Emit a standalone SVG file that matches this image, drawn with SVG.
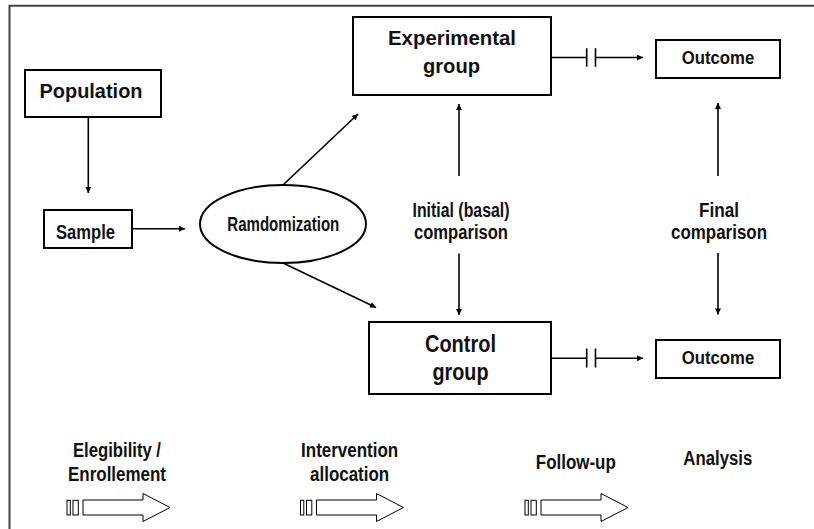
<svg xmlns="http://www.w3.org/2000/svg" width="814" height="529" viewBox="0 0 814 529">
<defs>
<style>
.box{fill:#fff;stroke:#000;stroke-width:2}
.t{font-family:"Liberation Sans",Arial,sans-serif;font-weight:bold;fill:#111;text-anchor:middle}
.c{stroke:#000;stroke-width:1.6;fill:none}
.hollow{fill:#fff;stroke:#000;stroke-width:1}
</style>
<marker id="ah" viewBox="0 0 10 10" refX="10" refY="5" markerWidth="7" markerHeight="6" markerUnits="userSpaceOnUse" orient="auto">
<path d="M0,0 L10,5 L0,10 z" fill="#000"/>
</marker>
<g id="hollowArrow">
<rect x="67" y="500.3" width="3.3" height="14.7" class="hollow"/>
<rect x="73" y="500.3" width="5.3" height="14.7" class="hollow"/>
<polygon points="83,500 143,500 143,493.5 170,507.5 143,521.5 143,515 83,515" class="hollow"/>
</g>
</defs>
<rect width="814" height="529" fill="#fff"/>
<path d="M9.5,529 V5.7 H814" fill="none" stroke="#444" stroke-width="2"/>

<g id="population">
<rect class="box" x="25" y="70" width="136" height="47"/>
<text class="t" x="91" y="98.3" font-size="21" textLength="103" lengthAdjust="spacingAndGlyphs">Population</text>
</g>
<g id="sample">
<rect class="box" x="44" y="210" width="88" height="38"/>
<text class="t" x="85.5" y="239.3" font-size="20" textLength="59" lengthAdjust="spacingAndGlyphs">Sample</text>
</g>
<g id="randomization">
<ellipse cx="283" cy="224" rx="83" ry="39" fill="#fff" stroke="#000" stroke-width="2"/>
<text class="t" x="283.3" y="231" font-size="20" textLength="112" lengthAdjust="spacingAndGlyphs">Ramdomization</text>
</g>
<g id="experimental">
<rect class="box" x="353" y="17" width="198" height="78"/>
<text class="t" x="452" y="44.9" font-size="21" textLength="128" lengthAdjust="spacingAndGlyphs">Experimental</text>
<text class="t" x="451.5" y="73" font-size="21" textLength="57" lengthAdjust="spacingAndGlyphs">group</text>
</g>
<g id="control">
<rect class="box" x="369" y="322" width="182" height="72"/>
<text class="t" x="460.5" y="351.5" font-size="23" textLength="71" lengthAdjust="spacingAndGlyphs">Control</text>
<text class="t" x="460.5" y="379.5" font-size="23" textLength="56" lengthAdjust="spacingAndGlyphs">group</text>
</g>
<g id="outcome-top">
<rect class="box" x="656" y="40" width="124" height="38"/>
<text class="t" x="718" y="64.3" font-size="18.5" textLength="72.6" lengthAdjust="spacingAndGlyphs">Outcome</text>
</g>
<g id="outcome-bottom">
<rect class="box" x="656" y="340" width="124" height="38"/>
<text class="t" x="718" y="364.3" font-size="18.5" textLength="72.6" lengthAdjust="spacingAndGlyphs">Outcome</text>
</g>
<g id="initial-comparison">
<text class="t" x="461" y="216.5" font-size="20" textLength="97" lengthAdjust="spacingAndGlyphs">Initial (basal)</text>
<text class="t" x="461" y="239" font-size="20" textLength="94" lengthAdjust="spacingAndGlyphs">comparison</text>
</g>
<g id="final-comparison">
<text class="t" x="719" y="216.5" font-size="20" textLength="40" lengthAdjust="spacingAndGlyphs">Final</text>
<text class="t" x="719" y="239" font-size="20" textLength="96" lengthAdjust="spacingAndGlyphs">comparison</text>
</g>

<g id="connectors">
<line class="c" x1="88.3" y1="117" x2="88.3" y2="193" stroke-width="1.3" marker-end="url(#ah)"/>
<line class="c" x1="132" y1="228.7" x2="185" y2="228.7" stroke-width="2.2" marker-end="url(#ah)"/>
<line class="c" x1="283" y1="185" x2="358" y2="114" marker-end="url(#ah)"/>
<line class="c" x1="283" y1="263" x2="376" y2="307.5" marker-end="url(#ah)"/>
<line class="c" x1="459" y1="176" x2="459" y2="104" marker-end="url(#ah)"/>
<line class="c" x1="459" y1="253.5" x2="459" y2="315" marker-end="url(#ah)"/>
<line class="c" x1="718" y1="176" x2="718" y2="103" marker-end="url(#ah)"/>
<line class="c" x1="718" y1="253" x2="718" y2="314.5" marker-end="url(#ah)"/>
<path class="c" d="M551,57.5 H586.7 M586.7,48.3 V66.7 M595.5,48.3 V66.7"/>
<line class="c" x1="595.5" y1="57.5" x2="643" y2="57.5" marker-end="url(#ah)"/>
<path class="c" d="M551,358.3 H586.7 M586.7,348.5 V367.5 M595.5,348.5 V367.5"/>
<line class="c" x1="595.5" y1="358.3" x2="643" y2="358.3" marker-end="url(#ah)"/>
</g>

<g id="phases">
<text class="t" x="117" y="457" font-size="20" textLength="88" lengthAdjust="spacingAndGlyphs">Elegibility /</text>
<text class="t" x="117" y="480.5" font-size="20" textLength="98" lengthAdjust="spacingAndGlyphs">Enrollement</text>
<text class="t" x="349.6" y="457" font-size="20" textLength="97" lengthAdjust="spacingAndGlyphs">Intervention</text>
<text class="t" x="349.6" y="480.5" font-size="20" textLength="79" lengthAdjust="spacingAndGlyphs">allocation</text>
<text class="t" x="575.8" y="469" font-size="20" textLength="80" lengthAdjust="spacingAndGlyphs">Follow-up</text>
<text class="t" x="717.8" y="465" font-size="20" textLength="69" lengthAdjust="spacingAndGlyphs">Analysis</text>
<use href="#hollowArrow"/>
<use href="#hollowArrow" x="233.5"/>
<use href="#hollowArrow" x="458"/>
</g>
</svg>
